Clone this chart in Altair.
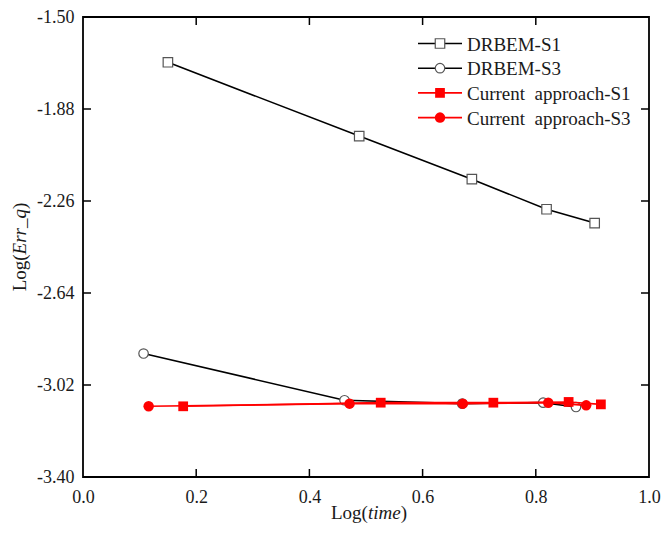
import altair as alt
import pandas as pd

# ---- data ----
x_drbem_s1 = [0.150, 0.488, 0.687, 0.819, 0.904]
y_drbem_s1 = [-1.687, -1.992, -2.170, -2.294, -2.351]
x_drbem_s3 = [0.107, 0.462, 0.670, 0.813, 0.871]
y_drbem_s3 = [-2.890, -3.083, -3.097, -3.093, -3.111]
x_cur_s1 = [0.177, 0.526, 0.725, 0.858, 0.915]
y_cur_s1 = [-3.108, -3.093, -3.093, -3.090, -3.100]
x_cur_s3 = [0.116, 0.471, 0.671, 0.822, 0.889]
y_cur_s3 = [-3.108, -3.097, -3.097, -3.093, -3.104]

series_names = ["DRBEM-S1", "DRBEM-S3", "Current\u00a0 approach-S1", "Current\u00a0 approach-S3"]
x_ticks = [0.0, 0.2, 0.4, 0.6, 0.8, 1.0]
y_ticks = [-3.40, -3.02, -2.64, -2.26, -1.88, -1.50]

FONT = "Liberation Serif"
W, H = 566, 460
TXT = "#1a1a1a"

xs = alt.Scale(domain=[0, 1], nice=False, zero=False)
ys = alt.Scale(domain=[-3.4, -1.5], nice=False, zero=False)

x_axis = alt.Axis(values=x_ticks, format=".1f", ticks=False, domain=False, grid=False,
                  labelFont=FONT, labelFontSize=18, labelColor=TXT, labelPadding=11,
                  labelFlush=False, labelOverlap=False, title=None)
y_axis = alt.Axis(values=y_ticks, format=".2f", ticks=False, domain=False, grid=False,
                  labelFont=FONT, labelFontSize=18, labelColor=TXT, labelPadding=9,
                  labelFlush=False, labelOverlap=False, title=None,
                  labelExpr="replace(datum.label, '\u2212', '-')")

specs = [
    (x_drbem_s1, y_drbem_s1, "black", "square", False),
    (x_drbem_s3, y_drbem_s3, "black", "circle", False),
    (x_cur_s1, y_cur_s1, "#ff0000", "square", True),
    (x_cur_s3, y_cur_s3, "#ff0000", "circle", True),
]

layers = []
for i, (xv, yv, col, shp, filled) in enumerate(specs):
    df = pd.DataFrame({"x": xv, "y": yv, "s": series_names[i]})
    base = alt.Chart(df)
    line = base.mark_line(color=col, strokeWidth=1.6).encode(
        x=alt.X("x:Q", scale=xs, axis=x_axis),
        y=alt.Y("y:Q", scale=ys, axis=y_axis),
        order="x:Q",
    )
    if filled:
        pt = base.mark_point(shape=shp, filled=True, color=col, opacity=1,
                             size=110 if shp == "circle" else 95).encode(
            x=alt.X("x:Q", scale=xs, axis=x_axis), y=alt.Y("y:Q", scale=ys, axis=y_axis))
    else:
        pt = base.mark_point(shape=shp, filled=True, fill="white", stroke="#555",
                             strokeWidth=1.2, opacity=1, size=90).encode(
            x=alt.X("x:Q", scale=xs, axis=x_axis), y=alt.Y("y:Q", scale=ys, axis=y_axis))
    layers += [line, pt]

# inward ticks on all four sides
xt = pd.DataFrame({"v": x_ticks[1:-1]})
yt = pd.DataFrame({"v": y_ticks[1:-1]})
TL = 8
layers.append(alt.Chart(xt).mark_rule(color="black", strokeWidth=1.5).encode(
    x=alt.X("v:Q", scale=xs, axis=x_axis), y=alt.value(H), y2=alt.value(H - TL)))
layers.append(alt.Chart(xt).mark_rule(color="black", strokeWidth=1.5).encode(
    x=alt.X("v:Q", scale=xs, axis=x_axis), y=alt.value(0), y2=alt.value(TL)))
layers.append(alt.Chart(yt).mark_rule(color="black", strokeWidth=1.5).encode(
    y=alt.Y("v:Q", scale=ys, axis=y_axis), x=alt.value(0), x2=alt.value(TL)))
layers.append(alt.Chart(yt).mark_rule(color="black", strokeWidth=1.5).encode(
    y=alt.Y("v:Q", scale=ys, axis=y_axis), x=alt.value(W), x2=alt.value(W - TL)))

# manual legend
leg_x0, leg_x1, leg_txt = 335, 379, 384
for i, (xv, yv, col, shp, filled) in enumerate(specs):
    ly = 26.5 + 24.7 * i
    d = pd.DataFrame({"s": [series_names[i]]})
    layers.append(alt.Chart(d).mark_rule(color=col, strokeWidth=1.6).encode(
        x=alt.value(leg_x0), x2=alt.value(leg_x1), y=alt.value(ly)))
    if filled:
        layers.append(alt.Chart(d).mark_point(shape=shp, filled=True, color=col, opacity=1,
                                              size=110 if shp == "circle" else 95).encode(
            x=alt.value((leg_x0 + leg_x1) / 2), y=alt.value(ly)))
    else:
        layers.append(alt.Chart(d).mark_point(shape=shp, filled=True, fill="white", stroke="#555",
                                              strokeWidth=1.2, opacity=1, size=90).encode(
            x=alt.value((leg_x0 + leg_x1) / 2), y=alt.value(ly)))
    layers.append(alt.Chart(d).mark_text(align="left", baseline="middle", font=FONT,
                                         fontSize=19, color=TXT).encode(
        x=alt.value(leg_txt), y=alt.value(ly + 1), text="s:N"))

# axis titles with italic parts
def tpart(txt, x, y, italic=False, angle=0):
    d = pd.DataFrame({"t": [txt]})
    kw = dict(align="left", baseline="middle", font=FONT, fontSize=19, color=TXT)
    if italic:
        kw["fontStyle"] = "italic"
    if angle:
        kw["angle"] = angle
    return alt.Chart(d).mark_text(**kw).encode(x=alt.value(x), y=alt.value(y), text="t:N")

fs = 19
w_log = 1.944 * fs
w_time = 1.722 * fs
w_close = 0.333 * fs
xt0 = 286 - (w_log + w_time + w_close) / 2
ty = H + 36
layers.append(tpart("Log(", xt0, ty))
layers.append(tpart("time", xt0 + w_log, ty, italic=True))
layers.append(tpart(")", xt0 + w_log + w_time, ty))

w_err = 2.389 * fs
yc = H / 2
ys0 = yc + (w_log + w_err + w_close) / 2
tx = -63
layers.append(tpart("Log(", tx, ys0, angle=270))
layers.append(tpart("Err_q", tx, ys0 - w_log, italic=True, angle=270))
layers.append(tpart(")", tx, ys0 - w_log - w_err, angle=270))

chart = alt.layer(*layers).properties(
    width=W, height=H,
    autosize=alt.AutoSizeParams(type="none"),
    padding={"left": 75, "top": 9, "right": 12, "bottom": 58},
).configure_view(stroke="black", strokeWidth=1.8).configure_axis(
    labelFont=FONT, labelFontSize=18, labelColor=TXT
).configure_text(font=FONT)

chart.save("out.html", embed_options={"renderer": "svg", "actions": False})
